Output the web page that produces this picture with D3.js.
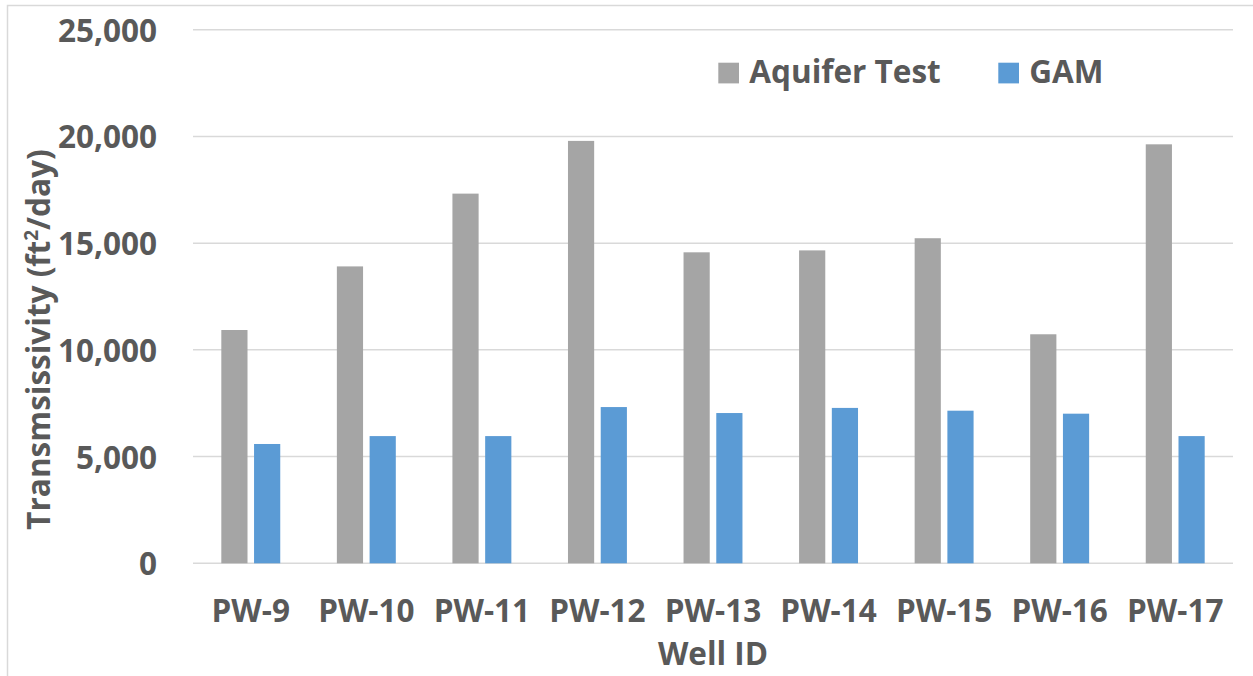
<!DOCTYPE html>
<html>
<head>
<meta charset="utf-8">
<script src="https://cdn.jsdelivr.net/npm/d3@7"></script>
<style>
  html, body { margin: 0; padding: 0; background: #fff; }
  svg { display: block; }
  text { font-family: "Open Sans", "DejaVu Sans", sans-serif; font-weight: 700; fill: #595959; }
</style>
</head>
<body>
<svg id="chart" width="1253" height="676"></svg>
<script>
// Transmissivity per pumping well: aquifer test vs. groundwater availability model
const wells = ["PW-9", "PW-10", "PW-11", "PW-12", "PW-13", "PW-14", "PW-15", "PW-16", "PW-17"];
const seriesNames = ["Aquifer Test", "GAM"];
const aquiferTest = [10930, 13910, 17320, 19790, 14570, 14660, 15230, 10730, 19630];
const gam = [5590, 5960, 5960, 7320, 7040, 7280, 7150, 7010, 5960];
const yTicks = [0, 5000, 10000, 15000, 20000, 25000];
const colors = ["#A5A5A5", "#5B9BD5"];

const svg = d3.select("#chart");
const W = 1253, H = 676;
const plot = { left: 193, right: 1233, top: 29.7, bottom: 563.3 };
const fontSize = "31.5px";

// outer chart border (left and top edges visible)
svg.append("rect")
  .attr("x", 7.5).attr("y", 5.5)
  .attr("width", W + 10).attr("height", H + 10)
  .attr("fill", "none").attr("stroke", "#D9D9D9").attr("stroke-width", 1.5);

const x0 = d3.scaleBand().domain(wells).range([plot.left, plot.right])
  .paddingInner(0.49).paddingOuter(0.245);
const x1 = d3.scaleBand().domain(seriesNames).range([0, x0.bandwidth()]).paddingInner(0.2);
const y = d3.scaleLinear().domain([0, 25000]).range([plot.bottom, plot.top]);

// horizontal gridlines
svg.append("g").selectAll("line").data(yTicks).join("line")
  .attr("x1", plot.left).attr("x2", plot.right)
  .attr("y1", d => y(d)).attr("y2", d => y(d))
  .attr("stroke", "#D9D9D9").attr("stroke-width", 1.5);

// y axis tick labels
const fmt = d3.format(",");
const yAxis = d3.axisLeft(y).tickValues(yTicks).tickFormat(fmt).tickSize(0).tickPadding(0);
const gy = svg.append("g").attr("transform", `translate(${plot.left - 36},0)`).call(yAxis);
gy.select(".domain").remove();
gy.selectAll("text")
  .attr("fill", "#595959").style("font-size", fontSize)
  .attr("font-family", null).attr("dy", null)
  .attr("y", 11.5);

// bars
const rows = wells.map((w, i) => ({ well: w, values: [aquiferTest[i], gam[i]] }));
const groups = svg.append("g").selectAll("g").data(rows).join("g")
  .attr("transform", d => `translate(${x0(d.well)},0)`);
groups.selectAll("rect")
  .data(d => d.values.map((v, k) => ({ key: seriesNames[k], value: v, k })))
  .join("rect")
  .attr("x", d => x1(d.key))
  .attr("width", x1.bandwidth())
  .attr("y", d => y(d.value))
  .attr("height", d => y(0) - y(d.value))
  .attr("fill", d => colors[d.k]);

// x axis category labels
const xAxis = d3.axisBottom(x0).tickSize(0).tickPadding(0);
const gx = svg.append("g").attr("transform", `translate(0,${plot.bottom})`).call(xAxis);
gx.select(".domain").remove();
gx.selectAll("text")
  .attr("fill", "#595959").style("font-size", fontSize)
  .attr("font-family", null).attr("dy", null)
  .attr("y", 58.5);

// axis titles
svg.append("text")
  .attr("x", (plot.left + plot.right) / 2).attr("y", 665)
  .attr("text-anchor", "middle").style("font-size", fontSize)
  .text("Well ID");

const yTitle = svg.append("text")
  .attr("transform", "translate(50,339.5) rotate(-90)")
  .attr("text-anchor", "middle").style("font-size", fontSize);
yTitle.append("tspan").text("Transmsissivity (ft");
yTitle.append("tspan").attr("dy", -12).style("font-size", "19px").text("2");
yTitle.append("tspan").attr("dy", 12).text("/day)");

// legend
const legendItems = [
  { name: seriesNames[0], color: colors[0], x: 718.3 },
  { name: seriesNames[1], color: colors[1], x: 998.3 }
];
const lg = svg.append("g").selectAll("g").data(legendItems).join("g")
  .attr("transform", d => `translate(${d.x},0)`);
lg.append("rect").attr("x", 0).attr("y", 62.7).attr("width", 20.7).attr("height", 20.7)
  .attr("fill", d => d.color);
lg.append("text").attr("x", 31).attr("y", 83.3).style("font-size", fontSize)
  .text(d => d.name);
</script>
</body>
</html>
